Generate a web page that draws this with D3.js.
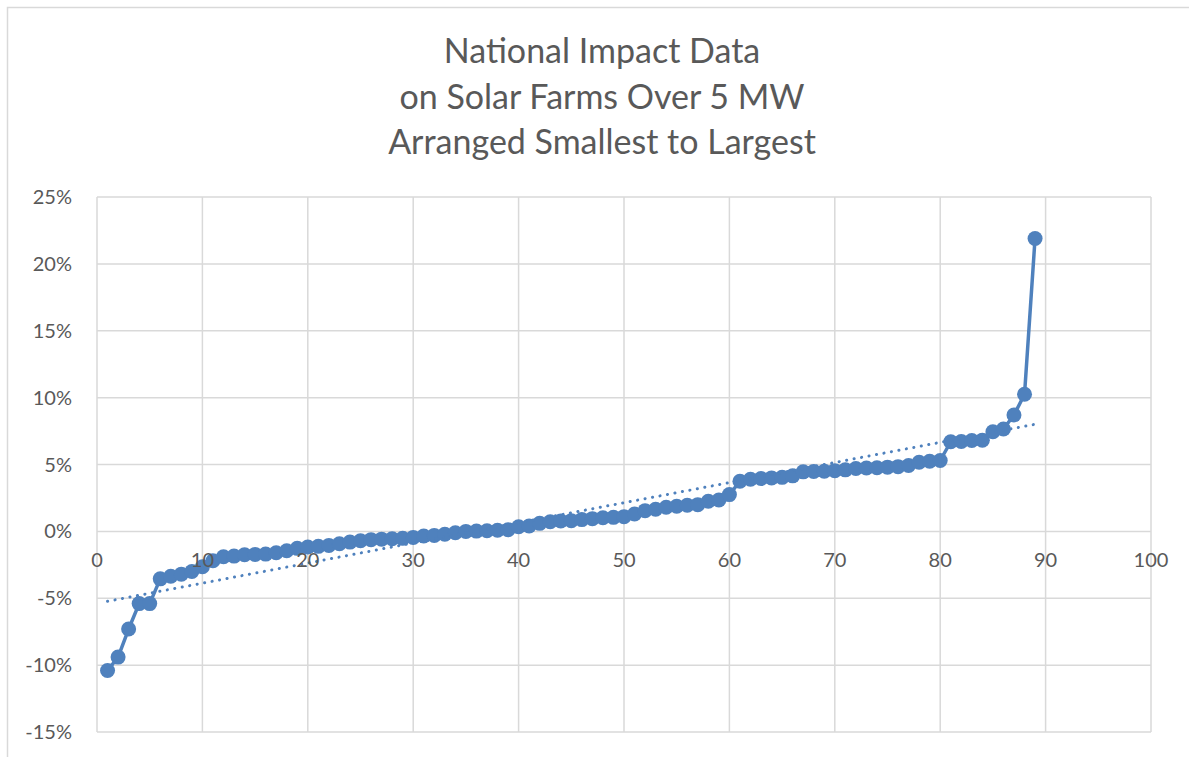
<!DOCTYPE html>
<html>
<head>
<meta charset="utf-8">
<script src="https://cdn.jsdelivr.net/npm/d3@7.9.0/dist/d3.min.js"></script>
<style>
  body { margin: 0; background: white; }
  svg { display: block; font-family: Lato, "Open Sans", sans-serif; }
</style>
</head>
<body>
<svg id="chart" width="1189" height="757"></svg>
<script>
const titleLines = ["National Impact Data", "on Solar Farms Over 5 MW", "Arranged Smallest to Largest"];

// rank of each farm (1..89)
const ranks = d3.range(1, 90);
// impact in percent
const impact = [
  -10.4, -9.4, -7.3, -5.4, -5.4, -3.55, -3.35, -3.2, -3.0, -2.65,
  -2.2, -1.9, -1.85, -1.75, -1.72, -1.7, -1.6, -1.45, -1.27, -1.17,
  -1.12, -1.05, -0.92, -0.8, -0.7, -0.62, -0.58, -0.55, -0.52, -0.45,
  -0.35, -0.3, -0.22, -0.1, 0.0, 0.02, 0.05, 0.08, 0.12, 0.35,
  0.4, 0.6, 0.72, 0.78, 0.8, 0.88, 0.95, 1.02, 1.05, 1.1,
  1.3, 1.55, 1.65, 1.8, 1.88, 1.95, 2.0, 2.25, 2.35, 2.75,
  3.75, 3.9, 3.95, 4.0, 4.04, 4.15, 4.45, 4.48, 4.5, 4.54,
  4.6, 4.7, 4.74, 4.76, 4.8, 4.84, 4.92, 5.17, 5.24, 5.3,
  6.7, 6.72, 6.79, 6.82, 7.45, 7.65, 8.7, 10.25, 21.9
];
const xTicks = d3.range(0, 101, 10);
const yTicks = d3.range(-15, 26, 5);

const blue = "#4f81bd";
const grid = "#d9d9d9";
const textCol = "#595959";

const svg = d3.select("#chart");

// chart outer border (runs off the picture at right and bottom)
svg.append("rect")
  .attr("x", 7.5).attr("y", 7.5)
  .attr("width", 1200).attr("height", 800)
  .attr("fill", "white")
  .attr("stroke", grid)
  .attr("stroke-width", 1.5);

const x = d3.scaleLinear().domain([0, 100]).range([97, 1151]);
const y = d3.scaleLinear().domain([-15, 25]).range([732, 197]);

// title
svg.append("g").selectAll("text")
  .data(titleLines)
  .join("text")
  .attr("x", 602)
  .attr("y", (d, i) => 63 + i * 45.5)
  .attr("text-anchor", "middle")
  .attr("font-size", "34px")
  .attr("fill", textCol)
  .text(d => d);

// gridlines
svg.append("g").selectAll("line.h")
  .data(yTicks)
  .join("line")
  .attr("x1", x(0)).attr("x2", x(100))
  .attr("y1", d => y(d)).attr("y2", d => y(d))
  .attr("stroke", grid).attr("stroke-width", 1.5);

svg.append("g").selectAll("line.v")
  .data(xTicks)
  .join("line")
  .attr("x1", d => x(d)).attr("x2", d => x(d))
  .attr("y1", y(25)).attr("y2", y(-15))
  .attr("stroke", grid).attr("stroke-width", 1.5);

// y tick labels
svg.append("g").selectAll("text")
  .data(yTicks)
  .join("text")
  .attr("x", 72)
  .attr("y", d => y(d))
  .attr("dy", "0.35em")
  .attr("text-anchor", "end")
  .attr("font-size", "20px")
  .attr("fill", textCol)
  .text(d => d + "%");

const data = ranks.map((r, i) => ({ r, v: impact[i] }));

// linear trendline (least squares)
const mx = d3.mean(data, d => d.r);
const my = d3.mean(data, d => d.v);
const slope = d3.sum(data, d => (d.r - mx) * (d.v - my)) / d3.sum(data, d => (d.r - mx) ** 2);
const icpt = my - slope * mx;
const trendEnds = [ranks[0], ranks[ranks.length - 1]];

const line = d3.line().x(d => x(d.r)).y(d => y(d.v));

svg.append("path")
  .datum(data)
  .attr("d", line)
  .attr("fill", "none")
  .attr("stroke", blue)
  .attr("stroke-width", 3.5)
  .attr("stroke-linejoin", "round");

svg.append("g").selectAll("circle")
  .data(data)
  .join("circle")
  .attr("cx", d => x(d.r))
  .attr("cy", d => y(d.v))
  .attr("r", 7.5)
  .attr("fill", blue);

svg.append("line")
  .attr("x1", x(trendEnds[0])).attr("y1", y(icpt + slope * trendEnds[0]))
  .attr("x2", x(trendEnds[1])).attr("y2", y(icpt + slope * trendEnds[1]))
  .attr("stroke", blue)
  .attr("stroke-width", 3)
  .attr("stroke-linecap", "round")
  .attr("stroke-dasharray", "0.1 7.5");

// x tick labels sit just under the 0% line, drawn over the series
svg.append("g").selectAll("text")
  .data(xTicks)
  .join("text")
  .attr("x", d => x(d))
  .attr("y", y(0) + 36)
  .attr("text-anchor", "middle")
  .attr("font-size", "20px")
  .attr("fill", textCol)
  .text(d => d);
</script>
</body>
</html>
